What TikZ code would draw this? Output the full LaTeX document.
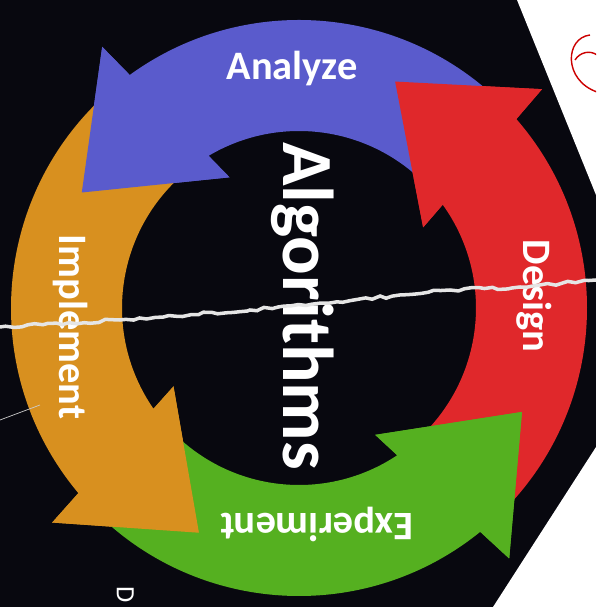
\documentclass[tikz,border=0pt]{standalone}
\usepackage{fontspec}
\setmainfont{Carlito}
\usetikzlibrary{decorations.pathmorphing}
\definecolor{analyzeblue}{HTML}{5A5BCC}
\definecolor{designred}{HTML}{E0282B}
\definecolor{experimentgreen}{HTML}{55B020}
\definecolor{implementorange}{HTML}{D8901F}
\definecolor{boardblack}{HTML}{08080F}
% ring arrow: colour, start angle, angle of the head base
\newcommand{\ringarrow}[3]{%
  \fill[#1] (#2:288) arc[start angle=#2, end angle=#3+8, radius=288]
    -- ({#3+9}:327) -- ({#3+34}:246) -- (#3:148) -- ({#3+2.7}:177)
    arc[start angle=#3+2.7, end angle=#2, radius=177] -- cycle;}
\newcommand{\ringhead}[2]{%
  \fill[#1] ({#2+9}:327) -- ({#2+34}:246) -- (#2:148) -- cycle;}

\begin{document}
\begin{tikzpicture}[x=0.02cm, y=0.02cm,
    ringlabel/.style={text=white, inner sep=0pt, font=\bfseries\fontsize{23}{23}\selectfont}]
  \clip (-299,-299) rectangle (297,308);
  % board and the paper corners
  \fill[boardblack] (-299,-299) rectangle (297,308);
  \fill[white] (218,308) -- (297,308) -- (297,113) -- cycle;
  \fill[white] (297,-139) -- (297,-299) -- (194,-299) -- cycle;

  \ringarrow{designred}{-46}{33}
  \ringarrow{analyzeblue}{46}{118}
  \ringarrow{implementorange}{131}{212}
  \ringarrow{experimentgreen}{225}{301}
  \ringhead{designred}{33}
  \ringhead{analyzeblue}{118}
  \ringhead{implementorange}{212}
  \ringhead{experimentgreen}{301}

  \node[ringlabel, anchor=base] (analyze) at (-7,228) {Analyze};
  \node[ringlabel, anchor=base, rotate=-90] (design) at (224,12) {Design};
  \node[ringlabel, anchor=base, rotate=180] (experiment) at (18,-205) {Experiment};
  \node[ringlabel, anchor=base, rotate=-90] (implement) at (-239,-19) {Implement};
  \node[text=white, inner sep=0pt, anchor=base, rotate=-90,
        font=\bfseries\fontsize{41}{41}\selectfont] (algo) at (-16,2) {Algorithms};
  \node[text=white, inner sep=0pt, anchor=base, rotate=-90,
        font=\fontsize{15}{15}\selectfont] (d) at (-182,-287) {D};

  % crease in the paper
  \draw[white!80!gray, line width=2pt, decorate,
        decoration={random steps, segment length=4pt, amplitude=0.9pt}]
    (-299,-19) -- (-179,-12) -- (-49,-2) -- (31,5) -- (151,18) -- (221,21) -- (297,28);
  \draw[white!60!gray, line width=0.4pt] (-299,-112) -- (-259,-97);
  % pen mark
  \draw[red!80!black, line width=0.8pt] (291,273) .. controls (266,270) and (264,228) .. (298,216);
  \draw[red!80!black, line width=0.8pt] (276,248) .. controls (281,256) and (291,258) .. (298,253);
\end{tikzpicture}
\end{document}
